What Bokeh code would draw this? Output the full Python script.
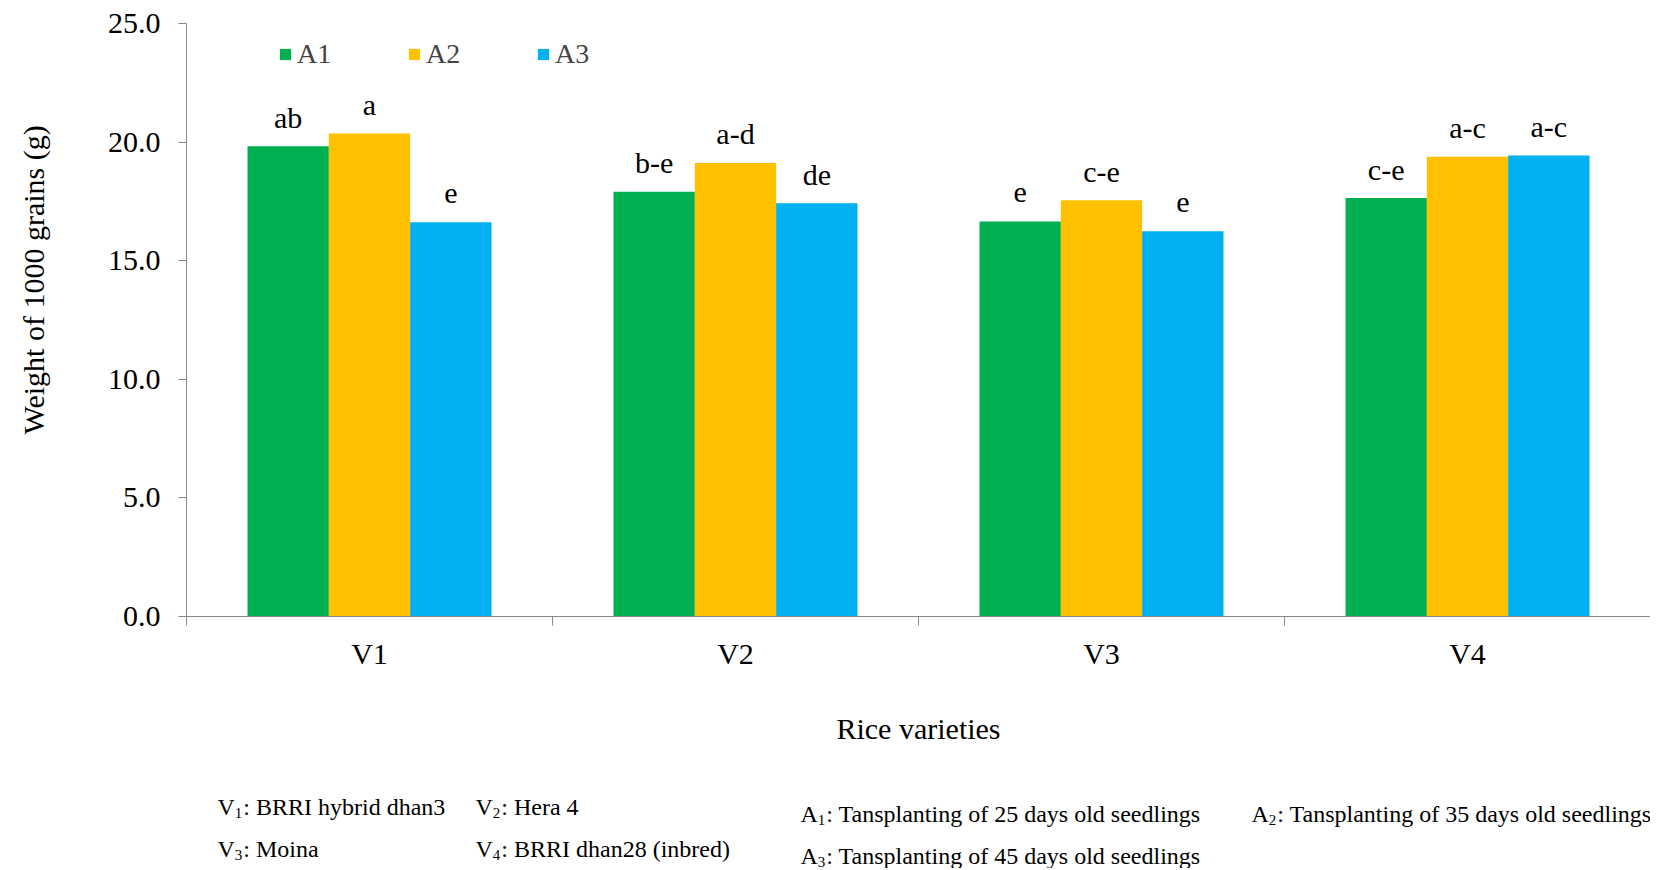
import numpy as np
from bokeh.plotting import figure
from bokeh.layouts import column, row
from bokeh.models import (ColumnDataSource, Range1d, FixedTicker,
                          PrintfTickFormatter, Label, Legend)
from bokeh.transform import dodge
from bokeh.core.properties import value
from bokeh.embed import file_html
from bokeh.resources import INLINE

varieties = ["V1", "V2", "V3", "V4"]
series = ["A1", "A2", "A3"]
a1 = [19.82, 17.91, 16.65, 17.64]
a2 = [20.36, 19.12, 17.55, 19.38]
a3 = [16.62, 17.42, 16.24, 19.43]
a1_letters = ["ab", "b-e", "e", "c-e"]
a2_letters = ["a", "a-d", "c-e", "a-c"]
a3_letters = ["e", "de", "e", "a-c"]
colors = ["#00B050", "#FFC000", "#00B0F0"]
y_ticks = [0, 5, 10, 15, 20, 25]
y_title = "Weight of 1000 grains (g)"
x_title = "Rice varieties"

FONT = "Liberation Serif"
LEFT_W = 60
MAIN_W = 1590
MAIN_H = 760
NOTES_H = 108
TOP_B = 23
BOT_B = 144


def blank(width, height, top=0, bottom=0):
    f = figure(width=width, height=height, output_backend="svg", toolbar_location=None,
               x_range=Range1d(0, 1), y_range=Range1d(0, 1),
               x_axis_type=None, y_axis_type=None,
               min_border_left=0, min_border_right=0,
               min_border_top=top, min_border_bottom=bottom)
    f.outline_line_color = None
    f.xgrid.grid_line_color = None
    f.ygrid.grid_line_color = None
    return f


# ---- left strip carrying the y-axis title ----
left = blank(LEFT_W, MAIN_H, TOP_B, BOT_B)
frame_bottom = MAIN_H - BOT_B
left.add_layout(Label(x=33, y=frame_bottom - 434, x_units="screen", y_units="screen",
                      text=y_title, angle=np.pi / 2, text_align="left",
                      text_baseline="middle", text_font=FONT, text_font_size="30px",
                      text_color="black"))

# ---- main chart ----
p = figure(width=MAIN_W, height=MAIN_H, output_backend="svg", toolbar_location=None,
           x_range=Range1d(0, 4), y_range=Range1d(0, 25),
           min_border_left=126, min_border_right=0, min_border_top=TOP_B,
           min_border_bottom=BOT_B)
p.outline_line_color = None
p.xgrid.grid_line_color = None
p.ygrid.grid_line_color = None

xc = np.arange(len(varieties)) + 0.5
vals = [a1, a2, a3]
letters = [a1_letters, a2_letters, a3_letters]
offsets = [-0.2222, 0.0, 0.2222]

items = []
for s, v, lt, c, off in zip(series, vals, letters, colors, offsets):
    src = ColumnDataSource(dict(x=xc, top=v, lab=lt))
    r = p.vbar(x=dodge("x", off, range=p.x_range), top="top", width=0.2222,
               source=src, fill_color=c, line_color=None)
    items.append((s, [r]))
    p.text(x=dodge("x", off, range=p.x_range), y="top", text="lab", source=src,
           text_font=value(FONT), text_font_size="30px", text_align="center",
           text_baseline="alphabetic", y_offset=-29, text_color="black")

legend = Legend(items=items, orientation="horizontal", location=(92, 546),
                padding=0, spacing=0, margin=0, glyph_width=14, glyph_height=14,
                label_width=110, label_standoff=5, label_text_font=FONT,
                label_text_font_size="28px", border_line_color=None,
                background_fill_alpha=0)
p.add_layout(legend, "center")

xa = p.xaxis[0]
xa.ticker = FixedTicker(ticks=list(xc), minor_ticks=[0, 1, 2, 3, 4])
xa.major_label_overrides = {float(t): v for t, v in zip(xc, varieties)}
xa.major_tick_out = 0
xa.major_tick_in = 0
xa.minor_tick_out = 9
xa.minor_tick_in = 0
xa.axis_line_color = "#898989"
xa.minor_tick_line_color = "#898989"
xa.major_label_text_font = FONT
xa.major_label_text_font_size = "30px"
xa.major_label_text_color = "black"
xa.major_label_standoff = 11
xa.axis_label = x_title
xa.axis_label_text_font = FONT
xa.axis_label_text_font_size = "30px"
xa.axis_label_text_font_style = "normal"
xa.axis_label_text_color = "black"
xa.axis_label_standoff = 39

ya = p.yaxis[0]
ya.ticker = FixedTicker(ticks=y_ticks)
ya.formatter = PrintfTickFormatter(format="%.1f")
ya.major_tick_out = 8
ya.major_tick_in = 0
ya.minor_tick_out = 0
ya.minor_tick_in = 0
ya.axis_line_color = "#898989"
ya.major_tick_line_color = "#898989"
ya.major_label_text_font = FONT
ya.major_label_text_font_size = "30px"
ya.major_label_text_color = "black"
ya.major_label_standoff = 18

# ---- footnotes ----
notes_fig = blank(LEFT_W + MAIN_W, NOTES_H)
notes = [
    (217, 62, "V", "1", ": BRRI hybrid dhan3"),
    (475, 62, "V", "2", ": Hera 4"),
    (217, 20, "V", "3", ": Moina"),
    (475, 20, "V", "4", ": BRRI dhan28 (inbred)"),
    (800, 55, "A", "1", ": Tansplanting of 25 days old seedlings"),
    (1251, 55, "A", "2", ": Tansplanting of 35 days old seedlings"),
    (800, 13, "A", "3", ": Tansplanting of 45 days old seedlings"),
]
MAIN = 24
SUB = 15
for x, y, ch, sub, rest in notes:
    w_ch = 0.722 * MAIN
    notes_fig.add_layout(Label(x=x, y=y, x_units="screen", y_units="screen", text=ch,
                               text_font=FONT, text_font_size=f"{MAIN}px",
                               text_baseline="middle", text_color="black"))
    notes_fig.add_layout(Label(x=x + w_ch, y=y - 6, x_units="screen", y_units="screen",
                               text=sub, text_font=FONT, text_font_size=f"{SUB}px",
                               text_baseline="middle", text_color="black"))
    notes_fig.add_layout(Label(x=x + w_ch + SUB * 0.5 + 1, y=y, x_units="screen",
                               y_units="screen", text=rest, text_font=FONT,
                               text_font_size=f"{MAIN}px", text_baseline="middle",
                               text_color="black"))

layout = column(row(left, p, spacing=0), notes_fig, spacing=0)
open("out.html", "w").write(file_html(layout, INLINE))
